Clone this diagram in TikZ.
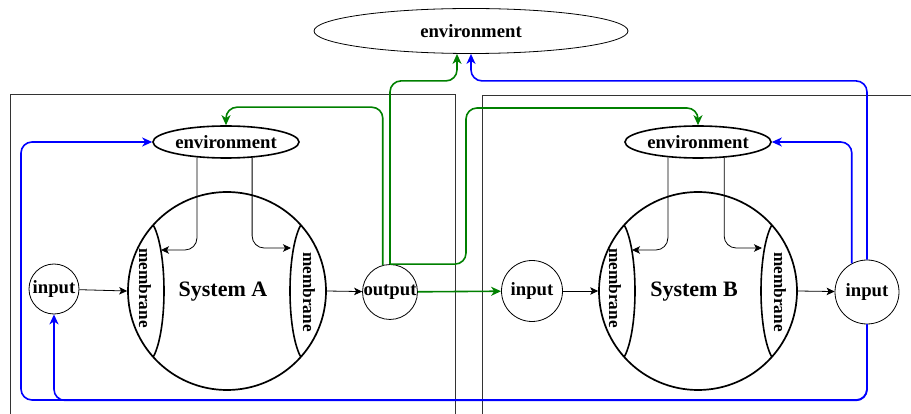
\documentclass[tikz,border=0pt]{standalone}
\usepackage{fontspec}
\setmainfont{Liberation Serif}
\usetikzlibrary{arrows.meta,shapes.geometric,calc}
\definecolor{flowgreen}{RGB}{0,128,0}
\definecolor{flowblue}{RGB}{0,0,255}

\begin{document}
\begin{tikzpicture}[x=1pt,y=-1pt,
  lbl/.style={font=\fontsize{18.7}{20}\selectfont\bfseries},
  frame/.style={draw=black!80,line width=0.8pt},
  portnode/.style={circle,draw,line width=0.8pt,fill=white,inner sep=0pt,lbl},
  envnode/.style={ellipse,draw,line width=1.6pt,fill=white,inner sep=0pt,
    minimum width=146pt,minimum height=32pt,lbl},
  sysnode/.style={circle,draw,line width=1.7pt,inner sep=0pt,minimum size=198pt},
  systext/.style={inner sep=0pt,font=\fontsize{22}{24}\selectfont\bfseries},
  memtext/.style={rotate=-90,inner sep=0pt,font=\fontsize{17.2}{18}\selectfont\bfseries},
  inflow/.style={line width=0.8pt,rounded corners=12pt,
    -{Stealth[length=8pt,width=7.5pt,inset=2pt]}},
  gflow/.style={draw=flowgreen,line width=1.6pt,rounded corners=11pt,
    -{Stealth[length=10pt,width=9pt,inset=3pt]}},
  bflow/.style={draw=flowblue,line width=1.6pt,rounded corners=11pt,
    -{Stealth[length=10pt,width=9pt,inset=3pt]}}]
\useasboundingbox (0,0) rectangle (911,414);
\clip (0,0) rectangle (911,414);

% the two enclosing frames
\draw[frame] (10,94) rectangle (455,440);
\draw[frame] (482,95) rectangle (940,440);

% shared environment
\node[ellipse,draw,line width=0.8pt,inner sep=0pt,minimum width=314pt,
  minimum height=45pt,lbl] (envTop) at (471,31) {environment};

% system A
\node[sysnode] (sysA) at (227,291) {};
\node[systext] (sysAtext) at (223,292) {System A};
\begin{scope}
  \clip (227,291) circle (99);
  \draw[line width=1.6pt] (146,291) ellipse (18 and 72);
  \draw[line width=1.6pt] (308,291) ellipse (18 and 72);
\end{scope}
\node[memtext] (memAtl) at (145,288) {membrane};
\node[memtext] (memAtr) at (309,292) {membrane};
\coordinate (memAL) at (161,250);
\coordinate (memAR) at (291,248);

% system B
\node[sysnode] (sysB) at (698,291) {};
\node[systext] (sysBtext) at (694,292) {System B};
\begin{scope}
  \clip (698,291) circle (99);
  \draw[line width=1.6pt] (617,291) ellipse (18 and 72);
  \draw[line width=1.6pt] (779,291) ellipse (18 and 72);
\end{scope}
\node[memtext] (memBtl) at (615,288) {membrane};
\node[memtext] (memBtr) at (780,292) {membrane};
\coordinate (memBL) at (632,250);
\coordinate (memBR) at (762,248);

% local environments and their feeds into the membranes
\node[envnode] (envA) at (226,142) {environment};
\node[envnode] (envB) at (698,142) {environment};
\draw[inflow] (envA.208) |- (memAL);
\draw[inflow] (envA.329) |- (memAR);
\draw[inflow] (envB.207) |- (memBL);
\draw[inflow] (envB.329) |- (memBR);

% inputs and outputs
\node[portnode,minimum size=50pt] (inA) at (54,289) {input};
\node[portnode,minimum size=53pt] (output) at (390,292) {output};
\node[portnode,minimum size=61pt] (inB) at (532,291) {input};
\node[portnode,minimum size=64pt] (inB2) at (867,292) {input};

\draw[inflow] (inA) -- (sysA.west);
\draw[inflow] (sysA.east) -- (output);
\draw[inflow] (inB) -- (sysB.west);
\draw[inflow] (sysB.east) -- (inB2);

% green flows leaving the output of system A
\draw[gflow] (output.north) |- ($(envTop.south)+(-14,27)$) -- ([xshift=-14pt]envTop.south);
\draw[gflow] (output.105) |- ($(envA.north)+(0,-18)$) -- (envA.north);
\draw[gflow] (output.north) -| (466,108) -| (envB.north);
\draw[gflow] (output) -- (inB);

% blue flows returning from the input of system B
\draw[bflow] (inB2.north) |- ($(envTop.south)+(0,27)$) -- (envTop.south);
\draw[bflow] (inB2.118) |- (envB.east);
\draw[bflow] (inB2.south) |- (21,400) |- (envA.west);
\draw[bflow] (inB2.south) |- ($(inA.south)+(0,86)$) -- (inA.south);
\end{tikzpicture}
\end{document}
